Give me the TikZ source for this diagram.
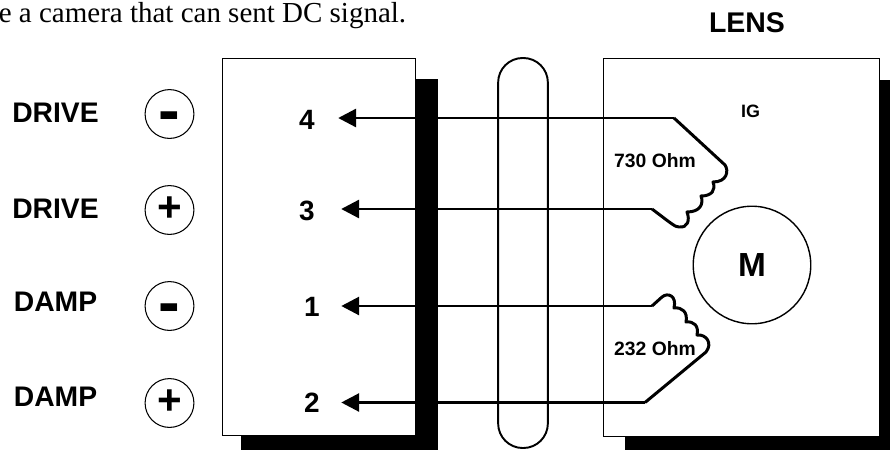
\documentclass[tikz,border=0pt]{standalone}
\usepackage{fontspec}
\setmainfont{Liberation Sans}
\newfontfamily\notefont{Liberation Serif}
\usepackage{tikz}
\usetikzlibrary{arrows.meta}
\tikzset{
    shadowbox/.style={fill=black, inner sep=0pt},
    unitbox/.style={draw, fill=white, line width=0.6pt, inner sep=0pt},
    sign/.style={circle, draw, line width=0.6pt, inner sep=0pt, minimum size=27.8pt, text depth=0pt},
    minussign/.style={sign, text height=21.5pt, font=\fontsize{37}{38}\bfseries},
    plussign/.style={sign, text height=12.7pt, font=\fontsize{24}{25}\bfseries},
    pinlabel/.style={inner sep=0pt, font=\fontsize{15.9}{17}\bfseries},
    side/.style={inner sep=0pt, font=\fontsize{16.1}{17}\bfseries},
    small/.style={inner sep=0pt, font=\fontsize{11}{12}\bfseries},
    wire/.style={line width=1.7pt, line join=round},
    lead/.style={wire, ->, >={Triangle[length=10.2pt, width=10.2pt]}}
}

\begin{document}
\begin{tikzpicture}[x=0.02cm, y=-0.02cm]
    \clip (0, 0) rectangle (890, 450);

    \node (note) at (-1.5, 22.5) [anchor=base west, inner sep=0pt, font=\notefont\fontsize{16.5}{18}\selectfont] {e a camera that can sent DC signal.};
    \node (lens) at (747, 22.5) [inner sep=0pt, font=\fontsize{16.2}{17}\bfseries] {LENS};

    \node (shadow1) at (339.5, 267.5) [shadowbox, minimum width=111.7pt, minimum height=215pt] {};
    \node (shadow2) at (762.5, 268.5) [shadowbox, minimum width=156.5pt, minimum height=215pt] {};
    \node (camera) at (319, 247) [unitbox, minimum width=110pt, minimum height=214.3pt] {};
    \node (unit) at (741.5, 247.5) [unitbox, minimum width=157pt, minimum height=214.8pt] {};
    \node (cable) at (523, 253) [draw, line width=1.1pt, rounded corners=14pt, inner sep=0pt, minimum width=28.3pt, minimum height=222pt] {};

    \node (drive1) at (55.5, 112.5) [side] {DRIVE};
    \node (drive2) at (55.5, 208.5) [side] {DRIVE};
    \node (damp1) at (55.5, 302) [side] {DAMP};
    \node (damp2) at (55.5, 397) [side] {DAMP};

    \node (minus1) at (169.5, 114) [minussign] {-};
    \node (plus1) at (169.5, 210) [plussign] {+};
    \node (minus2) at (169.5, 306) [minussign] {-};
    \node (plus2) at (169.5, 403) [plussign] {+};

    \node (4) at (307, 120) [pinlabel, minimum width=35.1pt] {4};
    \node (3) at (307, 211) [pinlabel, minimum width=38.5pt] {3};
    \node (1) at (312, 307) [pinlabel, minimum width=32.9pt] {1};
    \node (2) at (312, 403) [pinlabel, minimum width=32.9pt] {2};

    \node (ig) at (750.5, 111) [inner sep=0pt, font=\fontsize{10.2}{12}\bfseries] {IG};
    \node (r730) at (655, 161) [small] {730 Ohm};
    \node (r232) at (655, 349) [small] {232 Ohm};
    \node (motor) at (752, 265) [circle, draw, line width=0.8pt, inner sep=0pt, minimum size=66.9pt, font=\fontsize{19}{20}\bfseries] {M};

    \coordinate (w4) at (674, 118);
    \coordinate (w3) at (652, 209);
    \coordinate (w1) at (652, 306);
    \coordinate (w2) at (645, 402.5);

    \draw[lead] (w4) -- (4.east |- w4);
    \draw[lead] (w3) -- (3.east |- w3);
    \draw[lead] (w1) -- (1.east |- w1);
    \draw[lead] (w2) -- (2.east |- w2);

    \draw[wire] (w4) -- (725, 165) .. controls (729, 171) and (727, 182) .. (713, 182)
        .. controls (716, 190) and (712, 196) .. (701, 196)
        .. controls (704, 204) and (700, 212) .. (687, 212)
        .. controls (690, 220) and (688, 228) .. (679, 227)
        .. controls (675, 227) and (672, 224) .. (w3);
    \draw[wire] (w1) -- (662, 297) .. controls (668, 292) and (677, 296) .. (674, 308)
        .. controls (682, 307) and (688, 312) .. (686, 322)
        .. controls (694, 321) and (699, 326) .. (697, 335)
        .. controls (706, 334) and (713, 343) .. (706, 352)
        -- (w2);
\end{tikzpicture}
\end{document}
